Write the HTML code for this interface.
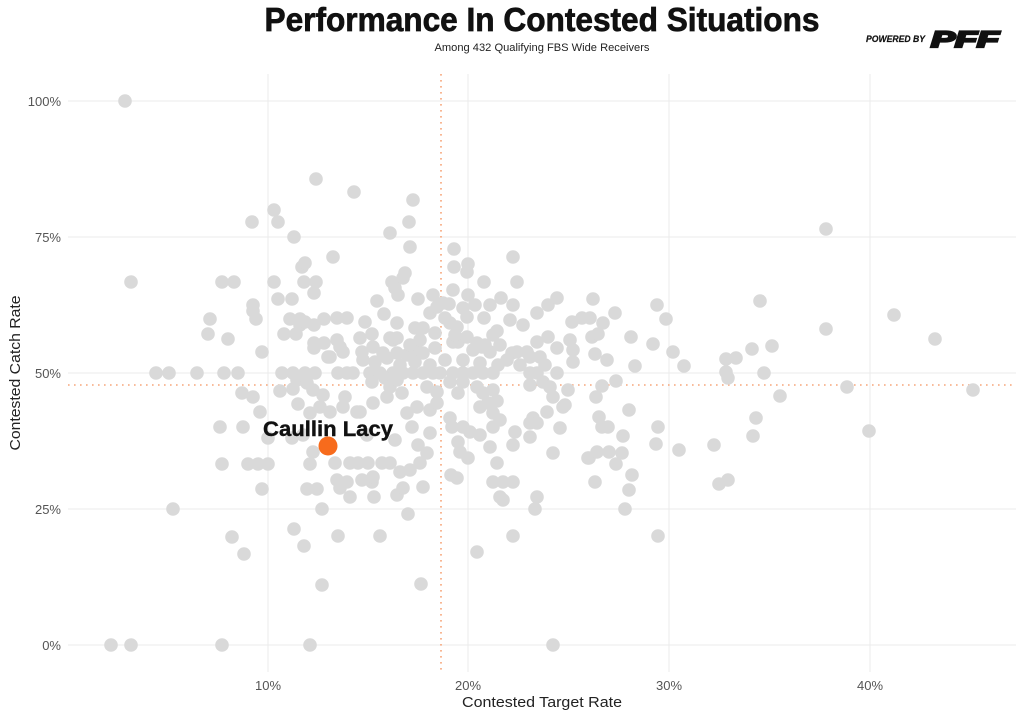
<!DOCTYPE html>
<html><head><meta charset="utf-8"><style>html,body{margin:0;padding:0;background:#fff}svg{display:block}</style></head><body>
<svg width="1024" height="717" viewBox="0 0 1024 717" xmlns="http://www.w3.org/2000/svg" font-family="Liberation Sans, Arial, sans-serif">
<rect width="1024" height="717" fill="#fff"/>
<text x="542" y="31" text-anchor="middle" font-size="33" font-weight="bold" fill="#111" stroke="#111" stroke-width="0.7" textLength="555" lengthAdjust="spacingAndGlyphs">Performance In Contested Situations</text>
<text x="542" y="51" text-anchor="middle" font-size="11" fill="#222" textLength="215" lengthAdjust="spacingAndGlyphs">Among 432 Qualifying FBS Wide Receivers</text>
<text x="866" y="42" font-size="9" font-weight="bold" font-style="italic" fill="#111" stroke="#111" stroke-width="0.2" textLength="59" lengthAdjust="spacingAndGlyphs">POWERED BY</text>
<text x="931" y="47" font-size="22" font-weight="bold" font-style="italic" fill="#111" stroke="#111" stroke-width="2.2" textLength="68" lengthAdjust="spacingAndGlyphs">PFF</text>
<g stroke="#ebebeb" stroke-width="1">
<line x1="68" y1="101" x2="1016" y2="101"/><line x1="68" y1="237" x2="1016" y2="237"/><line x1="68" y1="373" x2="1016" y2="373"/><line x1="68" y1="509" x2="1016" y2="509"/><line x1="68" y1="645" x2="1016" y2="645"/>
<line x1="268" y1="74" x2="268" y2="672"/><line x1="468" y1="74" x2="468" y2="672"/><line x1="669" y1="74" x2="669" y2="672"/><line x1="870" y1="74" x2="870" y2="672"/>
</g>
<g stroke="#f6a57a" stroke-width="1.6" stroke-dasharray="1.6,4.4">
<line x1="441" y1="74" x2="441" y2="672"/><line x1="68" y1="385" x2="1016" y2="385"/>
</g>
<g font-size="13" fill="#555" text-anchor="end">
<text x="61" y="106">100%</text><text x="61" y="242">75%</text><text x="61" y="378">50%</text><text x="61" y="514">25%</text><text x="61" y="650">0%</text>
</g>
<g font-size="13" fill="#555" text-anchor="middle">
<text x="268" y="690">10%</text><text x="468" y="690">20%</text><text x="669" y="690">30%</text><text x="870" y="690">40%</text>
</g>
<text x="542" y="707" text-anchor="middle" font-size="15" fill="#222" textLength="160" lengthAdjust="spacingAndGlyphs">Contested Target Rate</text>
<text transform="translate(20,373) rotate(-90)" text-anchor="middle" font-size="15" fill="#222" textLength="155" lengthAdjust="spacingAndGlyphs">Contested Catch Rate</text>
<g fill="#d9d9d9">
<circle cx="125" cy="101" r="6.8"/><circle cx="316" cy="179" r="6.8"/>
<circle cx="274" cy="210" r="6.8"/><circle cx="252" cy="222" r="6.8"/><circle cx="278" cy="222" r="6.8"/><circle cx="294" cy="237" r="6.8"/><circle cx="302" cy="267" r="6.8"/><circle cx="305" cy="263" r="6.8"/>
<circle cx="131" cy="282" r="6.8"/><circle cx="222" cy="282" r="6.8"/><circle cx="234" cy="282" r="6.8"/><circle cx="274" cy="282" r="6.8"/><circle cx="304" cy="282" r="6.8"/><circle cx="316" cy="282" r="6.8"/><circle cx="314" cy="293" r="6.8"/><circle cx="278" cy="299" r="6.8"/><circle cx="292" cy="299" r="6.8"/><circle cx="253" cy="305" r="6.8"/><circle cx="253" cy="311" r="6.8"/><circle cx="256" cy="319" r="6.8"/><circle cx="210" cy="319" r="6.8"/><circle cx="290" cy="319" r="6.8"/><circle cx="300" cy="319" r="6.8"/><circle cx="324" cy="319" r="6.8"/><circle cx="314" cy="325" r="6.8"/><circle cx="300" cy="325" r="6.8"/><circle cx="305" cy="322" r="6.8"/><circle cx="208" cy="334" r="6.8"/><circle cx="228" cy="339" r="6.8"/><circle cx="284" cy="334" r="6.8"/><circle cx="296" cy="334" r="6.8"/><circle cx="314" cy="343" r="6.8"/><circle cx="324" cy="343" r="6.8"/><circle cx="314" cy="348" r="6.8"/><circle cx="328" cy="357" r="6.8"/><circle cx="262" cy="352" r="6.8"/>
<circle cx="156" cy="373" r="6.8"/><circle cx="169" cy="373" r="6.8"/><circle cx="197" cy="373" r="6.8"/><circle cx="224" cy="373" r="6.8"/><circle cx="238" cy="373" r="6.8"/><circle cx="282" cy="373" r="6.8"/><circle cx="293" cy="373" r="6.8"/><circle cx="305" cy="373" r="6.8"/><circle cx="315" cy="373" r="6.8"/><circle cx="297" cy="380" r="6.8"/><circle cx="307" cy="383" r="6.8"/><circle cx="242" cy="393" r="6.8"/><circle cx="253" cy="397" r="6.8"/><circle cx="280" cy="391" r="6.8"/><circle cx="293" cy="389" r="6.8"/><circle cx="313" cy="390" r="6.8"/><circle cx="323" cy="395" r="6.8"/>
<circle cx="298" cy="404" r="6.8"/><circle cx="320" cy="407" r="6.8"/><circle cx="310" cy="413" r="6.8"/><circle cx="330" cy="412" r="6.8"/><circle cx="260" cy="412" r="6.8"/><circle cx="220" cy="427" r="6.8"/><circle cx="243" cy="427" r="6.8"/><circle cx="268" cy="438" r="6.8"/><circle cx="292" cy="438" r="6.8"/><circle cx="303" cy="435" r="6.8"/><circle cx="313" cy="452" r="6.8"/><circle cx="222" cy="464" r="6.8"/><circle cx="248" cy="464" r="6.8"/><circle cx="258" cy="464" r="6.8"/><circle cx="268" cy="464" r="6.8"/><circle cx="310" cy="464" r="6.8"/><circle cx="262" cy="489" r="6.8"/><circle cx="307" cy="489" r="6.8"/><circle cx="317" cy="489" r="6.8"/><circle cx="173" cy="509" r="6.8"/><circle cx="322" cy="509" r="6.8"/><circle cx="294" cy="529" r="6.8"/><circle cx="232" cy="537" r="6.8"/><circle cx="304" cy="546" r="6.8"/><circle cx="244" cy="554" r="6.8"/><circle cx="322" cy="585" r="6.8"/><circle cx="111" cy="645" r="6.8"/><circle cx="131" cy="645" r="6.8"/><circle cx="222" cy="645" r="6.8"/><circle cx="310" cy="645" r="6.8"/>
<circle cx="354" cy="192" r="6.8"/><circle cx="413" cy="200" r="6.8"/><circle cx="409" cy="222" r="6.8"/><circle cx="390" cy="233" r="6.8"/><circle cx="410" cy="247" r="6.8"/><circle cx="333" cy="257" r="6.8"/><circle cx="454" cy="249" r="6.8"/><circle cx="513" cy="257" r="6.8"/><circle cx="454" cy="267" r="6.8"/><circle cx="468" cy="264" r="6.8"/><circle cx="467" cy="272" r="6.8"/><circle cx="405" cy="273" r="6.8"/><circle cx="403" cy="278" r="6.8"/><circle cx="392" cy="282" r="6.8"/><circle cx="395" cy="288" r="6.8"/><circle cx="398" cy="295" r="6.8"/><circle cx="484" cy="282" r="6.8"/><circle cx="517" cy="282" r="6.8"/><circle cx="377" cy="301" r="6.8"/><circle cx="418" cy="299" r="6.8"/><circle cx="433" cy="295" r="6.8"/><circle cx="453" cy="290" r="6.8"/><circle cx="468" cy="295" r="6.8"/><circle cx="475" cy="305" r="6.8"/><circle cx="443" cy="303" r="6.8"/><circle cx="449" cy="304" r="6.8"/><circle cx="490" cy="305" r="6.8"/><circle cx="501" cy="298" r="6.8"/><circle cx="513" cy="305" r="6.8"/><circle cx="548" cy="305" r="6.8"/><circle cx="557" cy="298" r="6.8"/><circle cx="384" cy="314" r="6.8"/><circle cx="430" cy="313" r="6.8"/><circle cx="437" cy="307" r="6.8"/><circle cx="463" cy="308" r="6.8"/><circle cx="467" cy="317" r="6.8"/><circle cx="484" cy="318" r="6.8"/><circle cx="537" cy="313" r="6.8"/><circle cx="337" cy="318" r="6.8"/><circle cx="347" cy="318" r="6.8"/><circle cx="397" cy="323" r="6.8"/><circle cx="445" cy="318" r="6.8"/><circle cx="450" cy="323" r="6.8"/><circle cx="457" cy="327" r="6.8"/><circle cx="523" cy="325" r="6.8"/><circle cx="572" cy="322" r="6.8"/><circle cx="415" cy="328" r="6.8"/><circle cx="423" cy="328" r="6.8"/><circle cx="372" cy="334" r="6.8"/><circle cx="435" cy="333" r="6.8"/><circle cx="497" cy="331" r="6.8"/><circle cx="493" cy="335" r="6.8"/><circle cx="393" cy="340" r="6.8"/><circle cx="397" cy="338" r="6.8"/><circle cx="390" cy="338" r="6.8"/><circle cx="337" cy="340" r="6.8"/><circle cx="340" cy="347" r="6.8"/><circle cx="458" cy="342" r="6.8"/><circle cx="467" cy="337" r="6.8"/><circle cx="477" cy="343" r="6.8"/><circle cx="485" cy="345" r="6.8"/><circle cx="453" cy="342" r="6.8"/><circle cx="537" cy="342" r="6.8"/><circle cx="548" cy="337" r="6.8"/><circle cx="557" cy="348" r="6.8"/><circle cx="570" cy="340" r="6.8"/><circle cx="573" cy="350" r="6.8"/><circle cx="573" cy="362" r="6.8"/><circle cx="330" cy="357" r="6.8"/><circle cx="343" cy="352" r="6.8"/><circle cx="362" cy="352" r="6.8"/><circle cx="373" cy="347" r="6.8"/><circle cx="383" cy="353" r="6.8"/><circle cx="397" cy="353" r="6.8"/><circle cx="407" cy="355" r="6.8"/><circle cx="417" cy="352" r="6.8"/><circle cx="423" cy="353" r="6.8"/><circle cx="435" cy="348" r="6.8"/><circle cx="473" cy="350" r="6.8"/><circle cx="482" cy="347" r="6.8"/><circle cx="363" cy="360" r="6.8"/><circle cx="375" cy="362" r="6.8"/><circle cx="387" cy="358" r="6.8"/><circle cx="463" cy="360" r="6.8"/><circle cx="480" cy="363" r="6.8"/><circle cx="507" cy="360" r="6.8"/><circle cx="512" cy="353" r="6.8"/><circle cx="517" cy="352" r="6.8"/><circle cx="527" cy="352" r="6.8"/><circle cx="530" cy="357" r="6.8"/><circle cx="540" cy="357" r="6.8"/><circle cx="545" cy="365" r="6.8"/>
<circle cx="420" cy="340" r="6.8"/><circle cx="410" cy="345" r="6.8"/><circle cx="445" cy="360" r="6.8"/><circle cx="430" cy="365" r="6.8"/><circle cx="415" cy="362" r="6.8"/><circle cx="400" cy="365" r="6.8"/><circle cx="490" cy="352" r="6.8"/><circle cx="500" cy="345" r="6.8"/><circle cx="498" cy="365" r="6.8"/><circle cx="520" cy="365" r="6.8"/><circle cx="360" cy="338" r="6.8"/><circle cx="365" cy="322" r="6.8"/><circle cx="455" cy="335" r="6.8"/><circle cx="510" cy="320" r="6.8"/>
<circle cx="338" cy="373" r="6.8"/><circle cx="347" cy="373" r="6.8"/><circle cx="353" cy="373" r="6.8"/><circle cx="370" cy="373" r="6.8"/><circle cx="380" cy="373" r="6.8"/><circle cx="393" cy="373" r="6.8"/><circle cx="403" cy="373" r="6.8"/><circle cx="413" cy="373" r="6.8"/><circle cx="423" cy="373" r="6.8"/><circle cx="433" cy="373" r="6.8"/><circle cx="440" cy="373" r="6.8"/><circle cx="453" cy="373" r="6.8"/><circle cx="463" cy="373" r="6.8"/><circle cx="473" cy="373" r="6.8"/><circle cx="483" cy="373" r="6.8"/><circle cx="493" cy="373" r="6.8"/><circle cx="530" cy="373" r="6.8"/><circle cx="537" cy="373" r="6.8"/><circle cx="557" cy="373" r="6.8"/><circle cx="372" cy="382" r="6.8"/><circle cx="385" cy="378" r="6.8"/><circle cx="390" cy="387" r="6.8"/><circle cx="397" cy="380" r="6.8"/><circle cx="427" cy="387" r="6.8"/><circle cx="437" cy="392" r="6.8"/><circle cx="450" cy="382" r="6.8"/><circle cx="463" cy="382" r="6.8"/><circle cx="477" cy="387" r="6.8"/><circle cx="483" cy="393" r="6.8"/><circle cx="493" cy="390" r="6.8"/><circle cx="530" cy="385" r="6.8"/><circle cx="543" cy="382" r="6.8"/><circle cx="550" cy="387" r="6.8"/><circle cx="553" cy="397" r="6.8"/><circle cx="568" cy="390" r="6.8"/><circle cx="387" cy="397" r="6.8"/><circle cx="402" cy="393" r="6.8"/><circle cx="345" cy="397" r="6.8"/><circle cx="458" cy="393" r="6.8"/><circle cx="497" cy="401" r="6.8"/><circle cx="488" cy="403" r="6.8"/><circle cx="565" cy="405" r="6.8"/><circle cx="533" cy="418" r="6.8"/><circle cx="360" cy="412" r="6.8"/>
<circle cx="343" cy="407" r="6.8"/><circle cx="357" cy="412" r="6.8"/><circle cx="373" cy="403" r="6.8"/><circle cx="407" cy="413" r="6.8"/><circle cx="417" cy="407" r="6.8"/><circle cx="430" cy="410" r="6.8"/><circle cx="437" cy="403" r="6.8"/><circle cx="412" cy="427" r="6.8"/><circle cx="430" cy="433" r="6.8"/><circle cx="395" cy="440" r="6.8"/><circle cx="367" cy="435" r="6.8"/><circle cx="450" cy="418" r="6.8"/><circle cx="452" cy="427" r="6.8"/><circle cx="463" cy="427" r="6.8"/><circle cx="470" cy="432" r="6.8"/><circle cx="480" cy="435" r="6.8"/><circle cx="458" cy="442" r="6.8"/><circle cx="460" cy="452" r="6.8"/><circle cx="468" cy="458" r="6.8"/><circle cx="490" cy="447" r="6.8"/><circle cx="497" cy="463" r="6.8"/><circle cx="480" cy="407" r="6.8"/><circle cx="493" cy="413" r="6.8"/><circle cx="500" cy="420" r="6.8"/><circle cx="493" cy="427" r="6.8"/><circle cx="515" cy="432" r="6.8"/><circle cx="530" cy="423" r="6.8"/><circle cx="537" cy="423" r="6.8"/><circle cx="530" cy="437" r="6.8"/><circle cx="513" cy="445" r="6.8"/><circle cx="547" cy="412" r="6.8"/><circle cx="563" cy="407" r="6.8"/><circle cx="560" cy="428" r="6.8"/><circle cx="553" cy="453" r="6.8"/><circle cx="588" cy="458" r="6.8"/><circle cx="418" cy="445" r="6.8"/><circle cx="427" cy="453" r="6.8"/><circle cx="420" cy="463" r="6.8"/><circle cx="410" cy="470" r="6.8"/><circle cx="400" cy="472" r="6.8"/><circle cx="390" cy="463" r="6.8"/><circle cx="382" cy="463" r="6.8"/><circle cx="335" cy="463" r="6.8"/><circle cx="350" cy="463" r="6.8"/><circle cx="358" cy="463" r="6.8"/><circle cx="368" cy="463" r="6.8"/><circle cx="337" cy="480" r="6.8"/><circle cx="347" cy="482" r="6.8"/><circle cx="340" cy="488" r="6.8"/><circle cx="362" cy="480" r="6.8"/><circle cx="372" cy="482" r="6.8"/><circle cx="373" cy="477" r="6.8"/><circle cx="350" cy="497" r="6.8"/><circle cx="374" cy="497" r="6.8"/><circle cx="397" cy="495" r="6.8"/><circle cx="403" cy="488" r="6.8"/><circle cx="423" cy="487" r="6.8"/><circle cx="451" cy="475" r="6.8"/><circle cx="457" cy="478" r="6.8"/><circle cx="493" cy="482" r="6.8"/><circle cx="503" cy="482" r="6.8"/><circle cx="513" cy="482" r="6.8"/><circle cx="500" cy="497" r="6.8"/><circle cx="503" cy="500" r="6.8"/><circle cx="537" cy="497" r="6.8"/><circle cx="535" cy="509" r="6.8"/><circle cx="408" cy="514" r="6.8"/><circle cx="338" cy="536" r="6.8"/><circle cx="380" cy="536" r="6.8"/><circle cx="513" cy="536" r="6.8"/><circle cx="477" cy="552" r="6.8"/><circle cx="421" cy="584" r="6.8"/><circle cx="553" cy="645" r="6.8"/>
<circle cx="826" cy="229" r="6.8"/><circle cx="593" cy="299" r="6.8"/><circle cx="657" cy="305" r="6.8"/><circle cx="760" cy="301" r="6.8"/><circle cx="582" cy="318" r="6.8"/><circle cx="590" cy="318" r="6.8"/><circle cx="615" cy="313" r="6.8"/><circle cx="603" cy="323" r="6.8"/><circle cx="666" cy="319" r="6.8"/><circle cx="592" cy="337" r="6.8"/><circle cx="598" cy="334" r="6.8"/><circle cx="631" cy="337" r="6.8"/><circle cx="653" cy="344" r="6.8"/><circle cx="826" cy="329" r="6.8"/><circle cx="752" cy="349" r="6.8"/><circle cx="772" cy="346" r="6.8"/><circle cx="673" cy="352" r="6.8"/><circle cx="595" cy="354" r="6.8"/><circle cx="607" cy="360" r="6.8"/><circle cx="635" cy="366" r="6.8"/><circle cx="684" cy="366" r="6.8"/><circle cx="726" cy="359" r="6.8"/><circle cx="736" cy="358" r="6.8"/><circle cx="726" cy="372" r="6.8"/><circle cx="728" cy="378" r="6.8"/><circle cx="764" cy="373" r="6.8"/><circle cx="602" cy="386" r="6.8"/><circle cx="596" cy="397" r="6.8"/><circle cx="616" cy="381" r="6.8"/><circle cx="780" cy="396" r="6.8"/><circle cx="629" cy="410" r="6.8"/><circle cx="599" cy="417" r="6.8"/><circle cx="756" cy="418" r="6.8"/>
<circle cx="602" cy="427" r="6.8"/><circle cx="608" cy="427" r="6.8"/><circle cx="658" cy="427" r="6.8"/><circle cx="623" cy="436" r="6.8"/><circle cx="656" cy="444" r="6.8"/><circle cx="679" cy="450" r="6.8"/><circle cx="714" cy="445" r="6.8"/><circle cx="753" cy="436" r="6.8"/><circle cx="589" cy="458" r="6.8"/><circle cx="597" cy="452" r="6.8"/><circle cx="609" cy="452" r="6.8"/><circle cx="622" cy="453" r="6.8"/><circle cx="616" cy="464" r="6.8"/><circle cx="632" cy="475" r="6.8"/><circle cx="595" cy="482" r="6.8"/><circle cx="629" cy="490" r="6.8"/><circle cx="719" cy="484" r="6.8"/><circle cx="728" cy="480" r="6.8"/><circle cx="625" cy="509" r="6.8"/><circle cx="658" cy="536" r="6.8"/>
<circle cx="894" cy="315" r="6.8"/><circle cx="935" cy="339" r="6.8"/><circle cx="847" cy="387" r="6.8"/><circle cx="973" cy="390" r="6.8"/><circle cx="869" cy="431" r="6.8"/>
</g>
<circle cx="328" cy="446" r="9.5" fill="#f76b1c"/>
<text x="328" y="436" text-anchor="middle" font-size="21" font-weight="bold" fill="#111" stroke="#111" stroke-width="0.4" textLength="130" lengthAdjust="spacingAndGlyphs">Caullin Lacy</text>
</svg>
</body></html>
